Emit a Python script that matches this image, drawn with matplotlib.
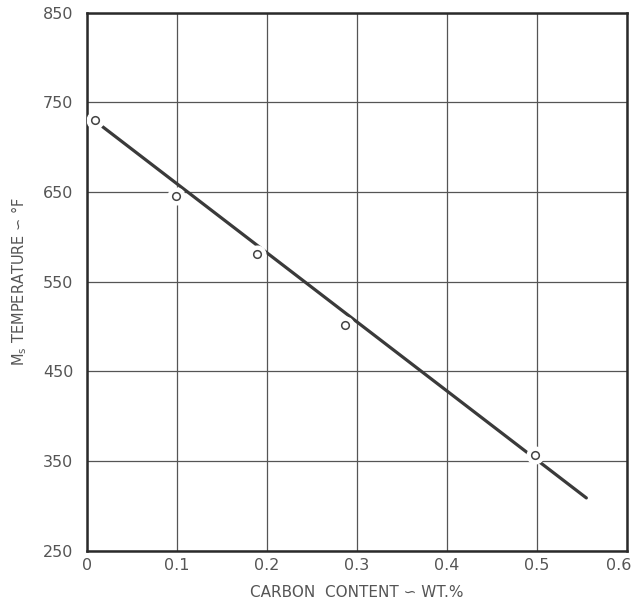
import matplotlib
matplotlib.use("Agg")
import matplotlib.pyplot as plt
from matplotlib.transforms import ScaledTranslation

# Data
carbon = [0.009, 0.099, 0.189, 0.287, 0.498]
ms_temp = [731, 646, 581, 502, 357]
fit_x = [0.017, 0.555]
fit_y = [723, 309]
xticks = [0, 0.1, 0.2, 0.3, 0.4, 0.5, 0.6]
xtick_labels = ["0", "0.1", "0.2", "0.3", "0.4", "0.5", "0.6"]
yticks = [250, 350, 450, 550, 650, 750, 850]

fig = plt.figure(figsize=(6.37, 6.10), dpi=100)
ax = fig.add_axes([0.137, 0.097, 0.847, 0.882])
ax.set_xlim(0, 0.6)
ax.set_ylim(250, 850)
ax.set_xticks(xticks)
ax.set_xticklabels(xtick_labels)
ax.set_yticks(yticks)
ax.grid(True, color="#555555", linewidth=0.9)
ax.set_axisbelow(True)
for s in ax.spines.values():
    s.set_linewidth(1.8)
    s.set_color("#2a2a2a")
ax.tick_params(axis="y", length=0, pad=10, labelsize=11.5, labelcolor="#555555")
ax.tick_params(axis="x", length=0, pad=5, labelsize=11.5, labelcolor="#555555")
last = ax.get_xticklabels()[-1]
last.set_horizontalalignment("right")
last.set_transform(last.get_transform() + ScaledTranslation(0.05, 0, fig.dpi_scale_trans))

ax.plot(fit_x, fit_y, color="#3a3a3a", linewidth=2.3, solid_capstyle="round", zorder=3)
ax.plot(carbon, ms_temp, linestyle="none", marker="o", markersize=12,
        markerfacecolor="white", markeredgecolor="white", zorder=4)
ax.plot(carbon, ms_temp, linestyle="none", marker="o", markersize=5.5,
        markerfacecolor="white", markeredgecolor="#444444", markeredgewidth=1.1, zorder=5)

ax.set_xlabel("CARBON  CONTENT \u223d WT.%", fontsize=11, color="#555555", labelpad=9)
ax.set_ylabel("M$_\\mathregular{s}$ TEMPERATURE \u223d \u00b0F", fontsize=10.5, color="#555555", labelpad=10)

fig.savefig("out.png", dpi=100, facecolor="white")
